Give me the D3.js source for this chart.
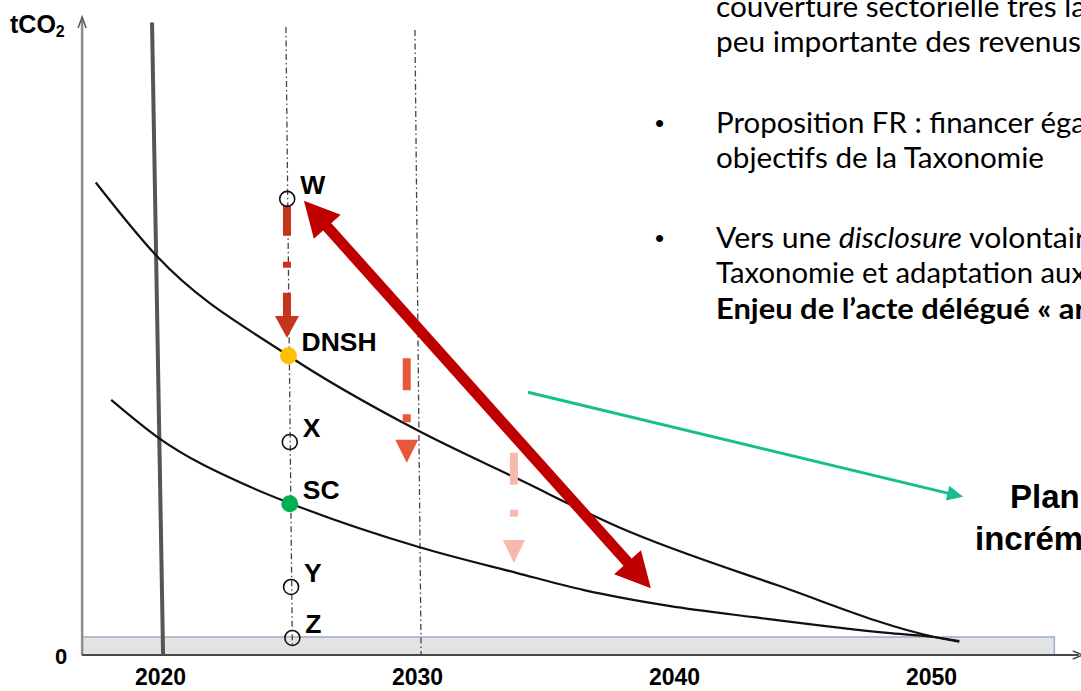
<!DOCTYPE html>
<html><head><meta charset="utf-8">
<script src="https://cdn.jsdelivr.net/npm/d3@7"></script>
<style>html,body{margin:0;padding:0;background:#fff;overflow:hidden}</style>
</head><body>
<svg id="c" width="1081" height="691"></svg>
<script>
// ---------- data ----------
const yearTicks = [2020, 2030, 2040, 2050];
const valueTicks = [0];
const yAxisTitle = "tCO";
const yAxisTitleSub = "2";

const dnshCurveYears  = [2017.5, 2019.9, 2025.0, 2030.0, 2034.0, 2037.9, 2044.0, 2050.1, 2051.1];
const dnshCurveValues = [75.0,   63.2,   47.5,   35.7,   27.8,   20.2,   11.1,   2.9,    2.1];

const scCurveYears  = [2018.1, 2019.9, 2023.5, 2025.05, 2030.1, 2033.9, 2036.5, 2039.8, 2043.1, 2048.3, 2050.1, 2051.1];
const scCurveValues = [40.5,   34.6,   26.7,   24.1,    17.1,   13.0,   10.3,   7.8,    6.0,    3.5,    2.86,   2.2];

const pointLabels = ["W", "DNSH", "X", "SC", "Y", "Z"];
const pointYears  = [2024.95, 2025.0, 2025.05, 2025.05, 2025.1, 2025.15];
const pointValues = [72.4, 47.5, 33.8, 24.0, 10.8, 2.7];

// reference verticals: 2020 (now), 2025, 2030
const refNames      = ["now", "y2025", "y2030"];
const refYearsTop   = [2019.69, 2024.9, 2029.92];
const refYearsBot   = [2020.12, 2025.15, 2030.16];
const refValuesTop  = [100.4, 99.7, 99.2];
const refValuesBot  = [0, 1.2, 0];

// dashed reduction arrows (year, start value, tip value)
const reductionYears = [2024.94, 2029.6, 2033.77];
const reductionFrom  = [71.3, 47.1, 32.1];
const reductionTo    = [50.3, 30.5, 14.6];

// double-headed arrow
const bigArrowYears  = [2025.6, 2039.1];
const bigArrowValues = [72.1, 10.6];

// green pointer arrow
const greenArrowYears  = [2034.32, 2051.25];
const greenArrowValues = [41.7, 25.1];

// near-zero band and axes extent
const bandYears  = [2016.97, 2054.8];
const bandValues = [0, 2.86];
const axisYears  = [2016.97, 2055.75];
const axisValues = [0, 100.8];

// side text (cropped in the original)
const sideLines = [
  {bullet:false, parts:[["couverture sectorielle très la","n"]], end:1086},
  {bullet:false, parts:[["peu importante des revenus","n"]], end:1081},
  {bullet:true,  parts:[["Proposition FR : financer éga","n"]], end:1086},
  {bullet:false, parts:[["objectifs de la Taxonomie","n"]], end:1044},
  {bullet:true,  parts:[["Vers une ","n"],["disclosure","i"],[" volontair","n"]], end:1086},
  {bullet:false, parts:[["Taxonomie et adaptation aux","n"]], end:1086},
  {bullet:false, parts:[["Enjeu de l’acte délégué « ar","b"]], end:1086}
];
const sideBaselines = [17, 52, 133, 168, 248, 283, 319];
const planLines = ["Plan", "incrém"];

// ---------- drawing ----------
const svg = d3.select("#c");
const x = d3.scaleLinear().domain([2020, 2050]).range([160, 931]);
const y = d3.scaleLinear().domain([0, 100]).range([655, 25]);
const ARIAL = "'Liberation Sans', Arial, sans-serif";

// band
svg.append("rect")
  .attr("x", x(bandYears[0])).attr("y", y(bandValues[1]))
  .attr("width", x(bandYears[1]) - x(bandYears[0]))
  .attr("height", y(bandValues[0]) - y(bandValues[1]))
  .attr("fill", "#e3e3e3").attr("stroke", "#9aaec4").attr("stroke-width", 1.5);

// y axis line
svg.append("line")
  .attr("x1", x(axisYears[0])).attr("x2", x(axisYears[0]))
  .attr("y1", y(axisValues[0])).attr("y2", y(axisValues[1]))
  .attr("stroke", "#8c8c8c").attr("stroke-width", 2.5);
{
  const ax = x(axisYears[0]), ay = y(axisValues[1]);
  svg.append("path").attr("d", `M${ax-4},${ay+8}L${ax},${ay-3}L${ax+4},${ay+8}`)
    .attr("fill", "none").attr("stroke", "#555").attr("stroke-width", 1.5);
}
// x axis line
svg.append("line")
  .attr("x1", x(axisYears[0])).attr("x2", x(axisYears[1]))
  .attr("y1", y(0)).attr("y2", y(0))
  .attr("stroke", "#3f4a55").attr("stroke-width", 2);
{
  const ax = x(axisYears[1]), ay = y(0);
  svg.append("path").attr("d", `M${ax-6},${ay-4}L${ax+4},${ay}L${ax-6},${ay+4}`)
    .attr("fill", "none").attr("stroke", "#3f4a55").attr("stroke-width", 1.5);
}

// axis labels through d3 axes
const xAxis = svg.append("g").attr("transform", `translate(0,${y(0)})`)
  .call(d3.axisBottom(x).tickValues(yearTicks).tickSize(0).tickPadding(14).tickFormat(d3.format("d")));
xAxis.select(".domain").remove();
xAxis.selectAll("text").attr("font-family", ARIAL).attr("font-weight", "bold")
  .attr("font-size", 23).attr("fill", "#000");

const yAxis = svg.append("g").attr("transform", `translate(${x(axisYears[0]) - 2},0)`)
  .call(d3.axisLeft(y).tickValues(valueTicks).tickSize(0).tickPadding(13).tickFormat(d3.format("d")));
yAxis.select(".domain").remove();
yAxis.selectAll("text").attr("font-family", ARIAL).attr("font-weight", "bold")
  .attr("font-size", 22).attr("fill", "#000").attr("dy", "0.4em");

// y axis title
{
  const t = svg.append("text").attr("x", 10).attr("y", 33)
    .attr("font-family", ARIAL).attr("font-weight", "bold").attr("font-size", 25).attr("fill", "#000");
  t.append("tspan").text(yAxisTitle);
  t.append("tspan").text(yAxisTitleSub).attr("font-size", 16).attr("dy", 4);
}

// reference vertical lines
const refStyles = {
  now:   {stroke: "#555", width: 4, dash: null},
  y2025: {stroke: "#444", width: 1.3, dash: "6,3,1.5,3"},
  y2030: {stroke: "#444", width: 1.3, dash: "6,3,1.5,3"}
};
refNames.forEach((n, i) => {
  const s = refStyles[n];
  svg.append("line")
    .attr("x1", x(refYearsTop[i])).attr("y1", y(refValuesTop[i]))
    .attr("x2", x(refYearsBot[i])).attr("y2", y(refValuesBot[i]))
    .attr("stroke", s.stroke).attr("stroke-width", s.width)
    .attr("stroke-dasharray", s.dash);
});

// curves
const line = d3.line().x(d => x(d[0])).y(d => y(d[1])).curve(d3.curveMonotoneX);
[[dnshCurveYears, dnshCurveValues], [scCurveYears, scCurveValues]].forEach(([ys, vs]) => {
  svg.append("path").attr("d", line(ys.map((yr, i) => [yr, vs[i]])))
    .attr("fill", "none").attr("stroke", "#111").attr("stroke-width", 2.2);
});

// arrow helper
function arrowHead(bx, by, tx, ty, halfW) {
  const dx = tx - bx, dy = ty - by, L = Math.hypot(dx, dy);
  const nx = -dy / L, ny = dx / L;
  return `M${bx + nx*halfW},${by + ny*halfW}L${tx},${ty}L${bx - nx*halfW},${by - ny*halfW}Z`;
}

// dashed reduction arrows
const redStyles = [
  {color: "#C4351B", dash: "30,26,6,25,40", headL: 22, headW: 12},
  {color: "#E9573B", dash: "32,24,8,200",   headL: 23, headW: 11.5},
  {color: "#F5BAAD", dash: "32,25,7,200",   headL: 23, headW: 11}
];
reductionYears.forEach((yr, i) => {
  const s = redStyles[i];
  const px = x(yr), y0 = y(reductionFrom[i]), yt = y(reductionTo[i]);
  const yb = yt - s.headL;
  svg.append("line").attr("x1", px).attr("x2", px).attr("y1", y0).attr("y2", yb)
    .attr("stroke", s.color).attr("stroke-width", 8).attr("stroke-dasharray", s.dash);
  svg.append("path").attr("d", arrowHead(px, yb, px, yt, s.headW)).attr("fill", s.color);
});

// big double-headed arrow
{
  const p0 = [x(bigArrowYears[0]), y(bigArrowValues[0])];
  const p1 = [x(bigArrowYears[1]), y(bigArrowValues[1])];
  const dx = p1[0] - p0[0], dy = p1[1] - p0[1], L = Math.hypot(dx, dy);
  const ux = dx / L, uy = dy / L, headL = 35;
  const b0 = [p0[0] + ux*headL, p0[1] + uy*headL];
  const b1 = [p1[0] - ux*headL, p1[1] - uy*headL];
  svg.append("line").attr("x1", b0[0] - ux*2).attr("y1", b0[1] - uy*2)
    .attr("x2", b1[0] + ux*2).attr("y2", b1[1] + uy*2)
    .attr("stroke", "#C00000").attr("stroke-width", 11);
  svg.append("path").attr("d", arrowHead(b0[0], b0[1], p0[0], p0[1], 18)).attr("fill", "#C00000");
  svg.append("path").attr("d", arrowHead(b1[0], b1[1], p1[0], p1[1], 18)).attr("fill", "#C00000");
}

// green arrow
{
  const p0 = [x(greenArrowYears[0]), y(greenArrowValues[0])];
  const p1 = [x(greenArrowYears[1]), y(greenArrowValues[1])];
  const dx = p1[0] - p0[0], dy = p1[1] - p0[1], L = Math.hypot(dx, dy);
  const ux = dx / L, uy = dy / L, headL = 16;
  const b = [p1[0] - ux*headL, p1[1] - uy*headL];
  svg.append("line").attr("x1", p0[0]).attr("y1", p0[1]).attr("x2", b[0] + ux).attr("y2", b[1] + uy)
    .attr("stroke", "#17BE8E").attr("stroke-width", 3);
  svg.append("path").attr("d", arrowHead(b[0], b[1], p1[0], p1[1], 7.5)).attr("fill", "#17BE8E");
}

// points and labels
const pointFill = {W: "none", DNSH: "#FFC000", X: "none", SC: "#00B050", Y: "none", Z: "none"};
pointLabels.forEach((lab, i) => {
  const px = x(pointYears[i]), py = y(pointValues[i]);
  const filled = pointFill[lab] !== "none";
  svg.append("circle").attr("cx", px).attr("cy", py).attr("r", filled ? 8.5 : 7.5)
    .attr("fill", filled ? pointFill[lab] : "none")
    .attr("stroke", filled ? "none" : "#111").attr("stroke-width", 1.6);
  svg.append("text").attr("x", px + 13).attr("y", py - 5).text(lab)
    .attr("font-family", ARIAL).attr("font-weight", "bold").attr("font-size", 26.5).attr("fill", "#000");
});

// side text
const SIDE = "Lato, 'Open Sans', sans-serif";
sideLines.forEach((ln, i) => {
  const by = sideBaselines[i];
  if (ln.bullet) {
    svg.append("text").attr("x", 655).attr("y", by - 1).text("•")
      .attr("font-family", ARIAL).attr("font-size", 26).attr("fill", "#000");
  }
  const t = svg.append("text").attr("x", 716).attr("y", by)
    .attr("font-family", SIDE).attr("font-size", 29).attr("fill", "#000")
    .attr("textLength", ln.end - 716).attr("lengthAdjust", "spacingAndGlyphs");
  ln.parts.forEach(([s, st]) => {
    const sp = t.append("tspan").text(s);
    if (st === "i") sp.attr("font-style", "italic");
    if (st === "b") sp.attr("font-weight", "bold");
  });
});

// "Plan ... incrém..." text
svg.append("text").attr("x", 1010).attr("y", 508).text(planLines[0])
  .attr("font-family", ARIAL).attr("font-weight", "bold").attr("font-size", 33).attr("fill", "#000");
svg.append("text").attr("x", 975).attr("y", 550).text(planLines[1])
  .attr("font-family", ARIAL).attr("font-weight", "bold").attr("font-size", 33).attr("fill", "#000");
</script>
</body></html>
